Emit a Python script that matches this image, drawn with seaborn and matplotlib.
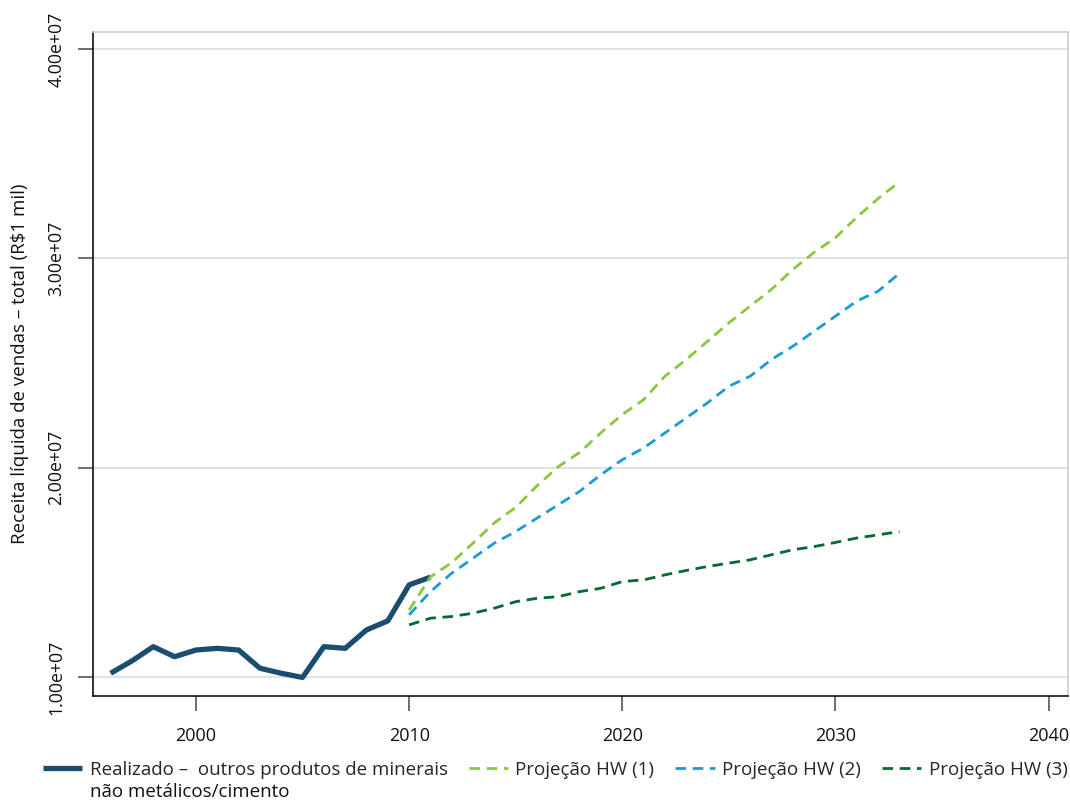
import matplotlib
matplotlib.use("Agg")
import matplotlib.pyplot as plt
import matplotlib.ticker as mticker
import numpy as np
import pandas as pd
import seaborn as sns

# Realised net sales revenue (R$ thousand)
years_real = [1996, 1997, 1998, 1999, 2000, 2001, 2002, 2003, 2004, 2005,
              2006, 2007, 2008, 2009, 2010, 2011]
real = [1.018e7, 1.077e7, 1.145e7, 1.097e7, 1.129e7, 1.137e7, 1.129e7, 1.042e7,
        1.018e7, 0.998e7, 1.145e7, 1.137e7, 1.225e7, 1.268e7, 1.440e7, 1.477e7]

# Holt-Winters projections
years_proj = list(range(2010, 2034))
hw1 = [1.320e7, 1.478e7, 1.547e7, 1.640e7, 1.737e7, 1.810e7, 1.914e7, 2.005e7,
       2.073e7, 2.167e7, 2.254e7, 2.325e7, 2.437e7, 2.517e7, 2.604e7, 2.692e7,
       2.772e7, 2.852e7, 2.947e7, 3.029e7, 3.099e7, 3.196e7, 3.286e7, 3.365e7]
hw2 = [1.297e7, 1.408e7, 1.496e7, 1.568e7, 1.640e7, 1.695e7, 1.759e7, 1.823e7,
       1.887e7, 1.967e7, 2.038e7, 2.094e7, 2.166e7, 2.238e7, 2.310e7, 2.389e7,
       2.437e7, 2.517e7, 2.580e7, 2.652e7, 2.724e7, 2.796e7, 2.843e7, 2.928e7]
hw3 = [1.249e7, 1.281e7, 1.289e7, 1.305e7, 1.329e7, 1.360e7, 1.376e7, 1.384e7,
       1.408e7, 1.424e7, 1.456e7, 1.464e7, 1.488e7, 1.509e7, 1.528e7, 1.544e7,
       1.560e7, 1.584e7, 1.608e7, 1.623e7, 1.643e7, 1.664e7, 1.679e7, 1.695e7]

label_real = "Realizado –  outros produtos de minerais"
label_real_cont = "não metálicos/cimento"
labels_proj = ["Projeção HW (1)", "Projeção HW (2)", "Projeção HW (3)"]
colors_proj = ["#8cc63f", "#1a9bd7", "#006b2e"]
color_real = "#1b4d6e"

x_ticks = [2000, 2010, 2020, 2030, 2040]
y_ticks = [1e7, 2e7, 3e7, 4e7]
y_label = "Receita líquida de vendas – total (R$1 mil)"

sns.set_theme(style="white")
plt.rcParams["font.family"] = ["Open Sans", "DejaVu Sans"]

FS = 13.5
fig = plt.figure(figsize=(10.70, 8.01), dpi=100)
ax = fig.add_axes([0.0869, 0.131, 0.9111, 0.829])

df_real = pd.DataFrame({"ano": years_real, "valor": real})
sns.lineplot(data=df_real, x="ano", y="valor", ax=ax, color=color_real,
             linewidth=3.8, label=label_real, solid_capstyle="butt")

for vals, lab, col in zip([hw1, hw2, hw3], labels_proj, colors_proj):
    d = pd.DataFrame({"ano": years_proj, "valor": vals})
    sns.lineplot(data=d, x="ano", y="valor", ax=ax, color=col, linewidth=2.0,
                 label=lab, dashes=False)
    ax.lines[-1].set_dashes([3.8, 2.4])

ax.set_xlim(1995.17, 2040.9)
ax.set_ylim(0.909e7, 4.081e7)
ax.set_xticks(x_ticks)
ax.set_yticks(y_ticks)
ax.yaxis.set_major_formatter(mticker.FormatStrFormatter("%.2e"))
ax.set_xlabel("")
ax.set_ylabel(y_label, fontsize=FS, color="#111111")
ax.yaxis.set_label_coords(-0.066, 0.5)

ax.grid(axis="y", color="#dcdcdc", linewidth=1.2)
ax.grid(axis="x", visible=False)
ax.set_axisbelow(True)

for side in ["left", "bottom"]:
    ax.spines[side].set_color("#111111")
    ax.spines[side].set_linewidth(1.2)
for side in ["top", "right"]:
    ax.spines[side].set_color("#cfcfcf")
    ax.spines[side].set_linewidth(1.2)

ax.tick_params(axis="both", which="major", direction="out", length=11,
               width=1.2, color="#555555", labelcolor="#111111",
               left=True, bottom=True)
ax.tick_params(axis="x", pad=11, labelsize=13)
ax.tick_params(axis="y", pad=9, labelsize=12.8)
for t in ax.get_yticklabels():
    t.set_rotation(90)
    t.set_va("center")

ax.get_legend().remove()
handles, labels = ax.get_legend_handles_labels()
leg = fig.legend(handles, labels, loc="center left",
                 bbox_to_anchor=(0.040, 0.0387, 0.958, 0), mode="expand",
                 ncol=4, frameon=False, fontsize=FS, handlelength=2.1,
                 handletextpad=0.4, columnspacing=1.2, borderaxespad=0,
                 borderpad=0)

# second line of the first legend entry, placed under its first line
fig.canvas.draw()
bb = leg.get_texts()[0].get_window_extent()
fig.text(bb.x0 / fig.bbox.width, (bb.y0 - 22) / fig.bbox.height,
         label_real_cont, fontsize=FS, color="#111111", ha="left", va="bottom")

fig.savefig("out.png", dpi=100)
